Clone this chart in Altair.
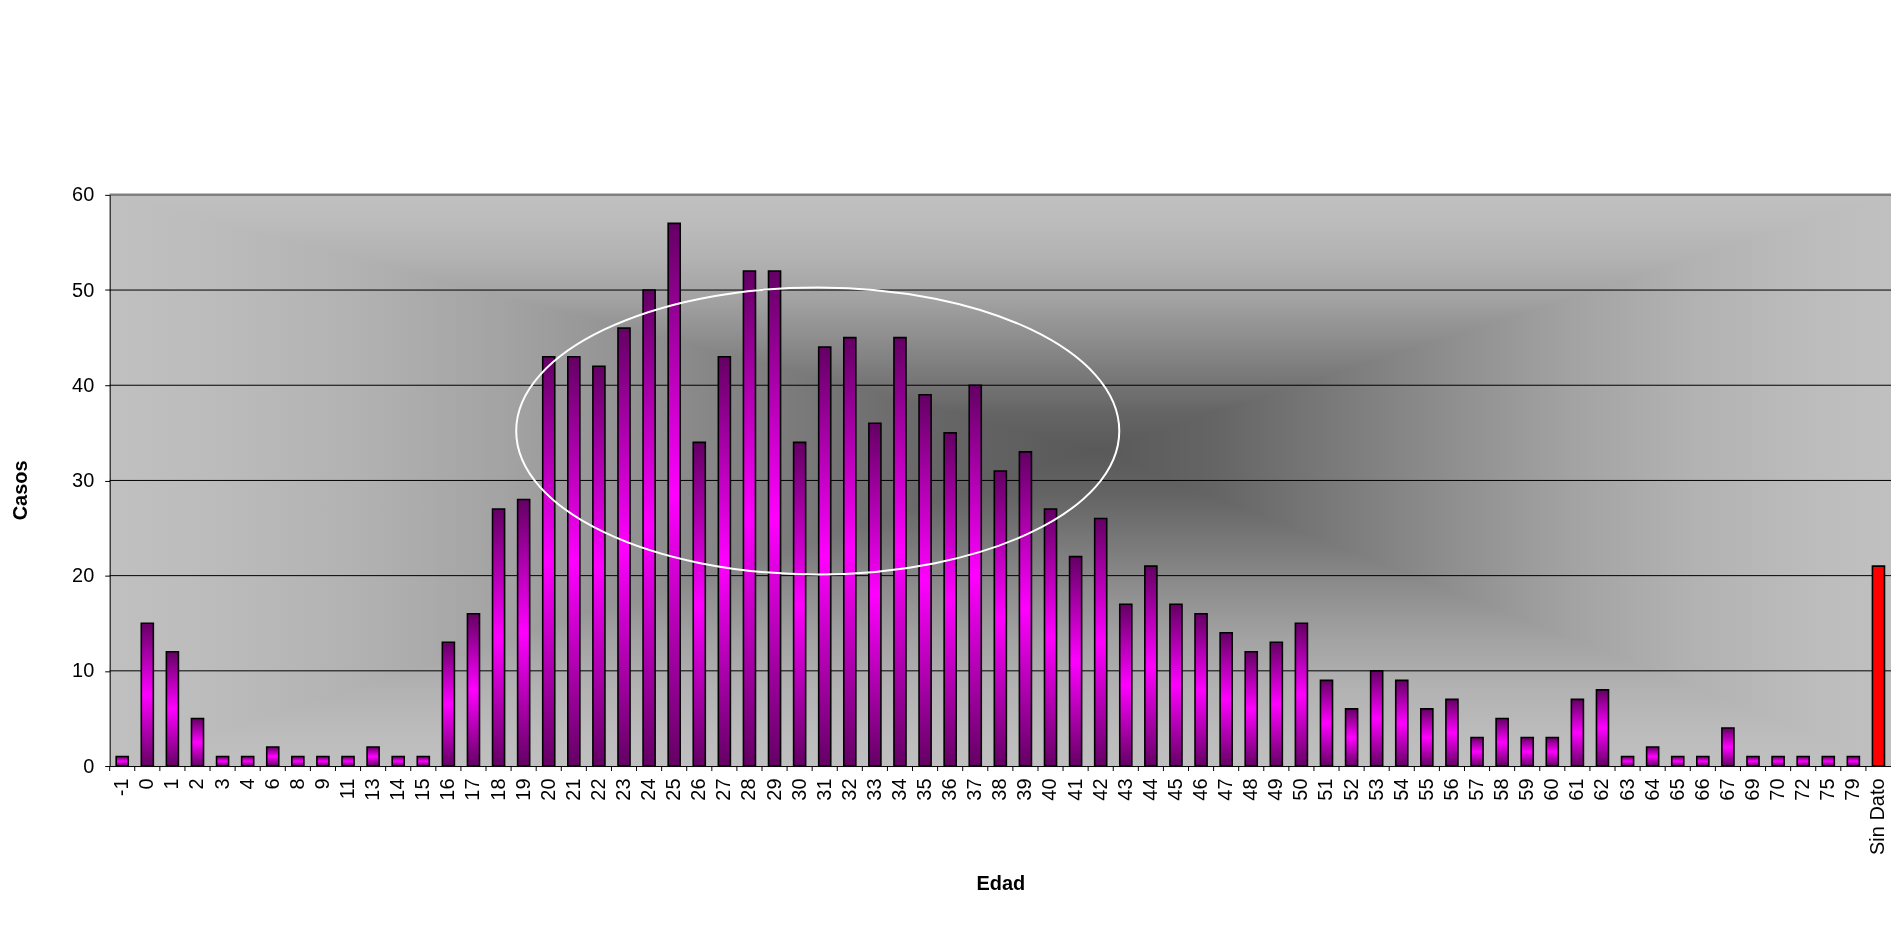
import altair as alt
import pandas as pd

# ---- data ----
edades = ["-1", "0", "1", "2", "3", "4", "6", "8", "9", "11", "13", "14", "15",
          "16", "17", "18", "19", "20", "21", "22", "23", "24", "25", "26", "27",
          "28", "29", "30", "31", "32", "33", "34", "35", "36", "37", "38", "39",
          "40", "41", "42", "43", "44", "45", "46", "47", "48", "49", "50", "51",
          "52", "53", "54", "55", "56", "57", "58", "59", "60", "61", "62", "63",
          "64", "65", "66", "67", "69", "70", "72", "75", "79", "Sin Dato"]
casos = [1, 15, 12, 5, 1, 1, 2, 1, 1, 1, 2, 1, 1,
         13, 16, 27, 28, 43, 43, 42, 46, 50, 57, 34, 43,
         52, 52, 34, 44, 45, 36, 45, 39, 35, 40, 31, 33,
         27, 22, 26, 17, 21, 17, 16, 14, 12, 13, 15, 9,
         6, 10, 9, 6, 7, 3, 5, 3, 3, 7, 8, 1,
         2, 1, 1, 4, 1, 1, 1, 1, 1, 21]
y_ticks = [0, 10, 20, 30, 40, 50, 60]
grid_vals = [10, 20, 30, 40, 50]
top_val = [60]

# annotation ellipse (centre in data terms)
ellipse_edad = ["31"]
ellipse_casos = [35.2]

df = pd.DataFrame({"Edad": edades, "Casos": casos})

W, H = 1787, 573
FONT = "Liberation Sans"
STEP = W / len(edades)

x_scale = alt.Scale(domain=edades, paddingInner=0.52, paddingOuter=0.26)
y_scale = alt.Scale(domain=[0, 60], nice=False)

# rectangular "from centre" grey gradient built from two linear gradients
profile = [(0.0, "#595959"), (0.15, "#656565"), (0.3, "#7a7a7a"), (0.45, "#8f8f8f"),
           (0.6, "#a3a3a3"), (0.75, "#b2b2b2"), (0.9, "#bcbcbc"), (1.0, "#c0c0c0")]


def stops(c):
    s = []
    for t, col in reversed(profile):
        s.append({"offset": c * (1 - t), "color": col})
    for t, col in profile[1:]:
        s.append({"offset": c + (1 - c) * t, "color": col})
    return s


x_axis = alt.Axis(
    title="Edad", labelAngle=-90, labelFontSize=20, labelFont=FONT, labelColor="black",
    ticks=False, labelPadding=12, labelOverlap=False, domainColor="black", domainWidth=1,
    titleFontSize=20, titleFontWeight="bold", titleColor="black", titleFont=FONT,
    titleY=118, titleBaseline="middle", grid=False, zindex=1,
)
y_axis = alt.Axis(
    title="Casos", values=y_ticks, tickSize=5, tickColor="black", domainColor="black",
    labelFontSize=20, labelFont=FONT, labelColor="black", labelPadding=11, grid=False,
    titleFontSize=20, titleFontWeight="bold", titleColor="black", titleFont=FONT,
    titleX=-89, titleY=296, titleAlign="center", titleBaseline="middle", titleAngle=-90,
    zindex=1,
)


def X():
    return alt.X("Edad:N", scale=x_scale, axis=x_axis, title="Edad")


def Y():
    return alt.Y("Casos:Q", scale=y_scale, axis=y_axis, title="Casos")


one = pd.DataFrame({"a": [0]})
bg_h = alt.Chart(one).mark_rect(
    fill={"gradient": "linear", "x1": 0, "y1": 0, "x2": 1, "y2": 0, "stops": stops(0.554)}
).encode(x=alt.value(0), x2=alt.value("width"), y=alt.value(0), y2=alt.value("height"))

bg_v = alt.Chart(one).mark_rect(
    fill={"gradient": "linear", "x1": 0, "y1": 0, "x2": 0, "y2": 1, "stops": stops(0.447)},
    blend="lighten",
).encode(x=alt.value(0), x2=alt.value("width"), y=alt.value(0), y2=alt.value("height"))

grid = alt.Chart(pd.DataFrame({"Casos": grid_vals})).mark_rule(
    color="black", strokeWidth=1
).encode(y=Y())

top_line = alt.Chart(pd.DataFrame({"Casos": top_val})).mark_rule(
    color="#808080", strokeWidth=2.5
).encode(y=Y())

xticks = alt.Chart(pd.DataFrame({"Edad": edades})).mark_rule(
    color="black", strokeWidth=1, xOffset=-STEP / 2
).encode(x=X(), y=alt.value(H), y2=alt.value(H + 5))

bar_grad = {"gradient": "linear", "x1": 0, "y1": 0, "x2": 0, "y2": 1,
            "stops": [{"offset": 0, "color": "#640064"},
                      {"offset": 0.5, "color": "#ff00ff"},
                      {"offset": 1, "color": "#640064"}]}

bars = alt.Chart(df).transform_filter("datum.Edad != 'Sin Dato'").mark_bar(
    fill=bar_grad, stroke="black", strokeWidth=1.6
).encode(x=X(), y=Y())

sin_dato = alt.Chart(df).transform_filter("datum.Edad == 'Sin Dato'").mark_bar(
    fill="#ff0000", stroke="black", strokeWidth=1.6
).encode(x=X(), y=Y())

k = 0.5523
ry = 0.476
ellipse_path = (
    f"M -1 0 C -1 {-ry*k:.4f} {-k:.4f} {-ry} 0 {-ry} "
    f"C {k:.4f} {-ry} 1 {-ry*k:.4f} 1 0 "
    f"C 1 {ry*k:.4f} {k:.4f} {ry} 0 {ry} "
    f"C {-k:.4f} {ry} -1 {ry*k:.4f} -1 0 Z"
)
ellipse = alt.Chart(pd.DataFrame({"Edad": ellipse_edad, "Casos": ellipse_casos})).mark_point(
    shape=ellipse_path, size=605 ** 2, filled=False, stroke="white", strokeWidth=2,
    opacity=1, xOffset=-7,
).encode(x=X(), y=Y())

chart = alt.layer(bg_h, bg_v, grid, top_line, xticks, bars, sin_dato, ellipse).properties(
    width=W, height=H,
    padding={"left": 102, "top": 186, "right": 0, "bottom": 150},
    autosize=alt.AutoSizeParams(type="none"),
    background="white",
).configure_view(stroke=None)

chart.save("out.html", embed_options={"renderer": "svg", "actions": False})
